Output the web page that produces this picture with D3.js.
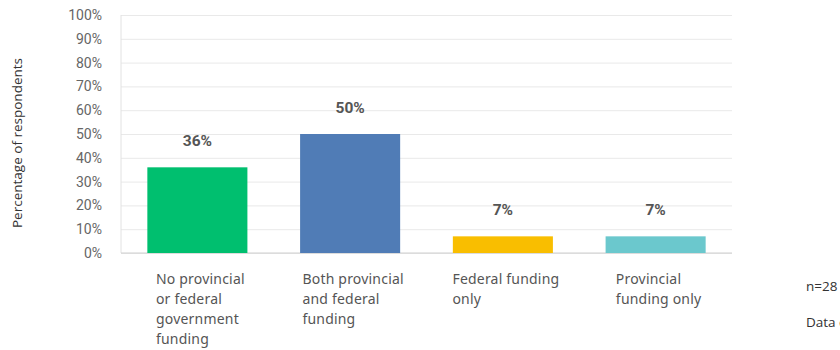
<!DOCTYPE html>
<html>
<head>
<meta charset="utf-8">
<script src="https://cdn.jsdelivr.net/npm/d3@7/dist/d3.min.js"></script>
<style>
  html, body { margin: 0; padding: 0; background: #fff; }
  svg { display: block; }
</style>
</head>
<body>
<svg id="chart" width="840" height="350"></svg>
<script>
// Funding sources reported by respondents
const categories = [
  ["No provincial", "or federal", "government", "funding"],
  ["Both provincial", "and federal", "funding"],
  ["Federal funding", "only"],
  ["Provincial", "funding only"]
];
const values = [36, 50, 7, 7];
const colors = ["#00BF6F", "#507CB6", "#F9BE00", "#6BC8CD"];
const yTicks = [0, 10, 20, 30, 40, 50, 60, 70, 80, 90, 100];
const yTitle = "Percentage of respondents";
const notes = ["n=28", "Data collected"];

const svg = d3.select("#chart");
const margin = { left: 121, right: 108, top: 15, bottom: 97 };
const W = 840, H = 350;
const plotW = W - margin.left - margin.right;
const plotH = H - margin.top - margin.bottom;

const keys = categories.map((c, i) => i);
const x = d3.scaleBand().domain(keys).range([0, plotW])
  .paddingInner(0.345).paddingOuter(0.1725);
const y = d3.scaleLinear().domain([0, 100]).range([plotH, 0]);

const g = svg.append("g").attr("transform", `translate(${margin.left},${margin.top})`);

// gridlines and tick labels
const yAxis = d3.axisLeft(y).tickValues(yTicks).tickSize(-plotW).tickFormat(d => d + "%").tickPadding(19);
const ya = g.append("g").call(yAxis);
ya.select(".domain").remove();
ya.selectAll(".tick line").attr("stroke", "#e9e9e9").attr("stroke-width", 1);
ya.selectAll(".tick text")
  .attr("fill", "#666")
  .style("font-family", "Roboto, 'Noto Sans', sans-serif")
  .style("font-size", "14px");

// left frame line and baseline
g.append("line").attr("x1", 0).attr("x2", 0).attr("y1", y(100)).attr("y2", y(0))
  .attr("stroke", "#e2e2e2");
g.append("line").attr("x1", 0).attr("x2", plotW).attr("y1", y(0)).attr("y2", y(0))
  .attr("stroke", "#cfcfcf").attr("stroke-width", 1.2);

// bars
g.selectAll("rect.bar").data(values).join("rect")
  .attr("class", "bar")
  .attr("x", (d, i) => x(i))
  .attr("width", x.bandwidth())
  .attr("y", d => y(d))
  .attr("height", d => y(0) - y(d))
  .attr("fill", (d, i) => colors[i]);

// value labels
g.selectAll("text.val").data(values).join("text")
  .attr("class", "val")
  .attr("x", (d, i) => x(i) + x.bandwidth() / 2)
  .attr("y", d => y(d) - 21)
  .attr("text-anchor", "middle")
  .attr("fill", "#555")
  .style("font-family", "Roboto, 'Noto Sans', sans-serif")
  .style("font-weight", "bold")
  .style("font-size", "15.5px")
  .text(d => d + "%");

// category labels: left-aligned lines in a block centred under each bar
categories.forEach((lines, i) => {
  const t = g.append("text")
    .attr("fill", "#555")
    .style("font-family", "'Noto Sans', sans-serif")
    .style("font-size", "14px")
    .style("letter-spacing", "0.2px");
  lines.forEach((ln, j) => {
    t.append("tspan").attr("x", 0).attr("y", plotH + 31 + j * 20).text(ln);
  });
  const wMax = d3.max(t.selectAll("tspan").nodes(), n => n.getComputedTextLength());
  const left = x(i) + x.bandwidth() / 2 + 3 - wMax / 2;
  t.selectAll("tspan").attr("x", left);
});

// axis title
svg.append("text")
  .attr("transform", "translate(22,143) rotate(-90)")
  .attr("text-anchor", "middle")
  .attr("fill", "#333")
  .style("font-family", "'Open Sans', sans-serif")
  .style("font-size", "13.5px")
  .text(yTitle);

// footnotes
svg.selectAll("text.note").data(notes).join("text")
  .attr("class", "note")
  .attr("x", 806)
  .attr("y", (d, i) => 291 + i * 36)
  .attr("fill", "#333")
  .style("font-family", "'Open Sans', sans-serif")
  .style("font-size", "13.5px")
  .text(d => d);
</script>
</body>
</html>
